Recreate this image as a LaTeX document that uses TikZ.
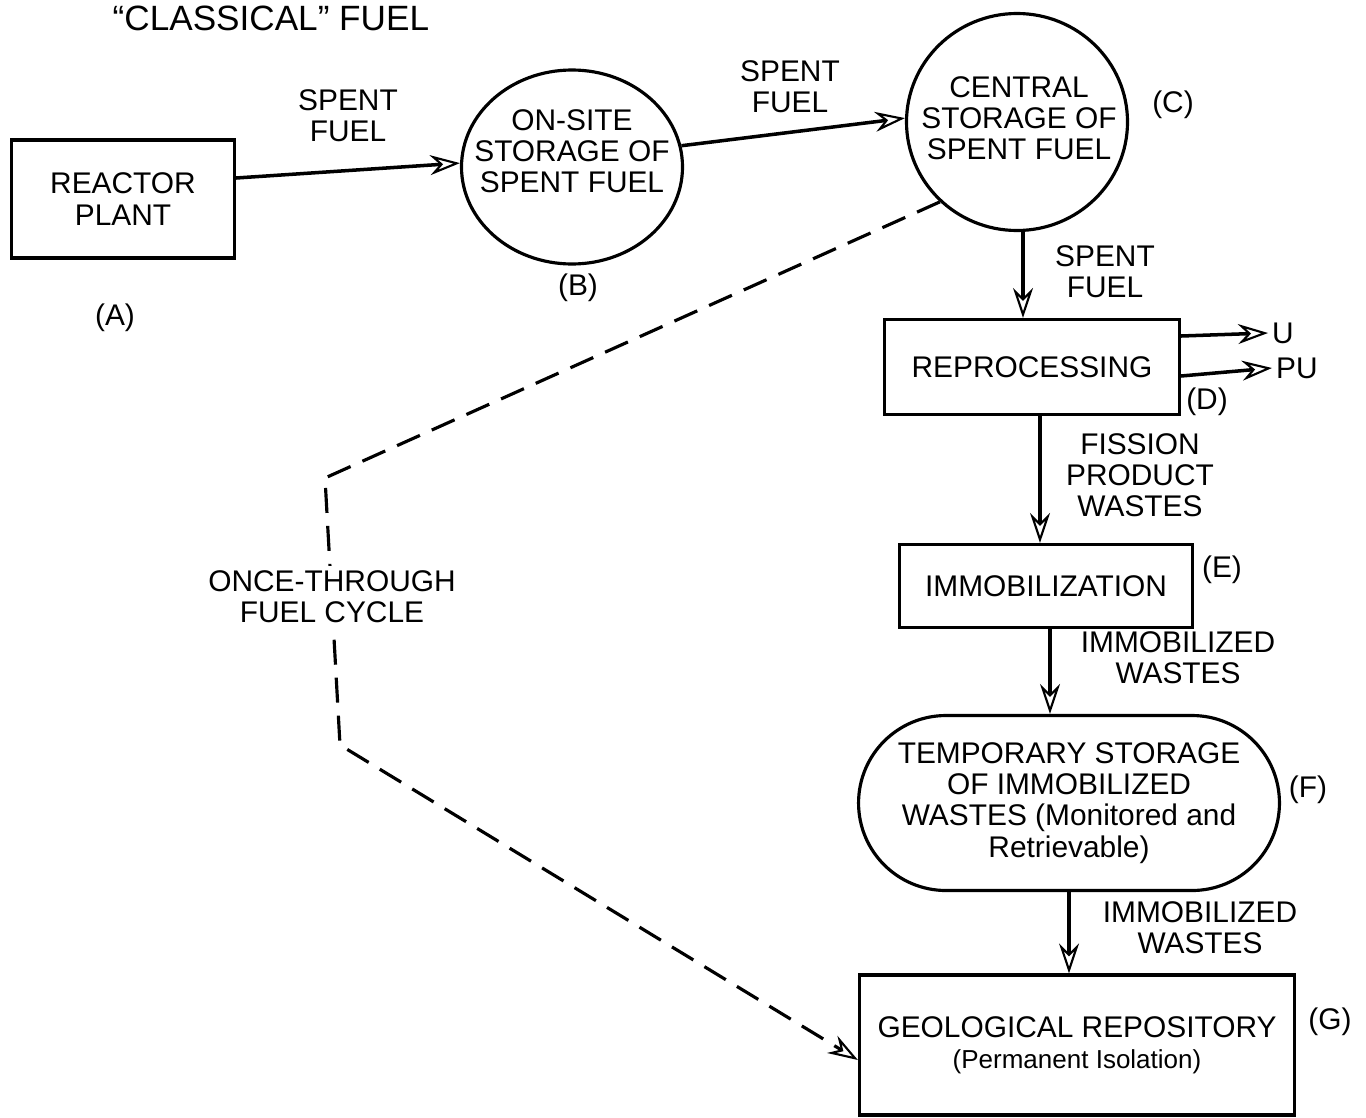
\documentclass[tikz,border=0pt]{standalone}
\usepackage{fontspec}
\setmainfont{Liberation Sans}
\usetikzlibrary{positioning,arrows.meta,shapes.misc,shapes.geometric}
\newcommand{\fcfont}{\fontsize{8.5}{8.9}\selectfont}
\newcommand{\fcsmall}{\fontsize{7.4}{8.2}\selectfont}
\tikzset{
  pbox/.style  ={rectangle, draw=black, line width=0.9pt, align=center, inner sep=3pt, font=\fcfont},
  store/.style ={ellipse, draw=black, line width=0.9pt, inner sep=0pt},
  tstore/.style={rounded rectangle, draw=black, line width=0.9pt, align=center, inner sep=3pt, font=\fcfont},
  note/.style  ={align=center, inner sep=1.5pt, font=\fcfont},
  tag/.style   ={inner sep=1pt, font=\fcfont},
  flow/.style  ={-{Stealth[open, length=3mm, width=2mm, inset=1mm, line width=0.6pt]}, line width=1pt},
  once/.style  ={-{Stealth[open, length=3mm, width=2mm, inset=1mm, line width=0.6pt]}, line width=0.9pt,
                 dash pattern=on 2.5mm off 1.3mm},
}

\begin{document}
\begin{tikzpicture}
  \useasboundingbox (0,0) rectangle (13.66,-11.17);
  % title
  \node[anchor=base west, inner sep=0pt, font=\fontsize{10}{12}\selectfont] (ttl) at (1.12,-0.31) {“CLASSICAL” FUEL};
  % stations of the cycle
  \node[pbox, minimum width=22.3mm, minimum height=11.8mm] (A) at (1.23,-1.99) {REACTOR\\PLANT};
  \node[store, minimum width=22.1mm, minimum height=19.4mm,
        label={[note, yshift=1.6mm]center:ON-SITE\\STORAGE OF\\SPENT FUEL}] (B) at (5.72,-1.67) {};
  \node[store, minimum width=22.1mm, minimum height=21.7mm,
        label={[note, xshift=0.2mm, yshift=0.4mm]center:CENTRAL\\STORAGE OF\\SPENT FUEL}] (C) at (10.17,-1.22) {};
  \node[pbox, minimum width=29.5mm, minimum height=9.5mm] (D) at (10.32,-3.67) {REPROCESSING};
  \node[pbox, minimum width=29.3mm, minimum height=8.3mm] (E) at (10.46,-5.86) {IMMOBILIZATION};
  \node[tstore, minimum width=44.2mm, minimum height=17.5mm] (F) at (10.69,-8.03)
       {TEMPORARY STORAGE\\OF IMMOBILIZED\\WASTES (Monitored and\\Retrievable)};
  \node[pbox, minimum width=43.5mm, minimum height=14mm] (G) at (10.77,-10.45)
       {GEOLOGICAL REPOSITORY\\{\fcsmall (Permanent Isolation)}};
  % letters
  \node[tag] (tA) at (1.15,-3.18) {(A)};
  \node[tag] (tB) at (5.78,-2.88) {(B)};
  \node[tag] (tC) at (11.73,-1.05) {(C)};
  \node[tag] (tD) at (12.07,-4.02) {(D)};
  \node[tag] (tE) at (12.22,-5.70) {(E)};
  \node[tag] (tF) at (13.08,-7.90) {(F)};
  \node[tag] (tG) at (13.30,-10.22) {(G)};
  \node[tag, anchor=west] (U) at (12.68,-3.33) {U};
  \node[tag, anchor=west] (PU) at (12.72,-3.68) {PU};
  % flow labels
  \node[note] (sf1) at (3.48,-1.16) {SPENT\\FUEL};
  \node[note] (sf2) at (7.90,-0.87) {SPENT\\FUEL};
  \node[note] (sf3) at (11.05,-2.72) {SPENT\\FUEL};
  \node[note] (fpw) at (11.40,-4.75) {FISSION\\PRODUCT\\WASTES};
  \node[note] (iw1) at (11.78,-6.58) {IMMOBILIZED\\WASTES};
  \node[note] (iw2) at (12.00,-9.28) {IMMOBILIZED\\WASTES};
  % connectors
  \draw[flow] ([yshift=2.1mm]A.east) -- (B.178);
  \draw[flow] (B.11) -- (C.178);
  \draw[flow] ([xshift=0.6mm]C.south) -- ([xshift=0.6mm]C.south |- D.north);
  \draw[flow] ([yshift=3.1mm]D.east) -- (U.west);
  \draw[flow] ([yshift=-0.9mm]D.east) -- (PU.west);
  \draw[flow] ([xshift=0.8mm]D.south) -- ([xshift=0.8mm]D.south |- E.north);
  \draw[flow] ([xshift=0.4mm]E.south) -- ([xshift=0.4mm]E.south |- F.north);
  \draw[flow] (F.south) -- (F.south |- G.north);
  % once-through branch
  \coordinate (k1) at (3.25,-4.78);
  \coordinate (k2) at (3.40,-7.45);
  \draw[once] (C.226) -- (k1) -- (k2) -- ([yshift=-1.5mm]G.west);
  \node[note, fill=white] (otf) at (3.32,-5.97) {ONCE-THROUGH\\FUEL CYCLE};
\end{tikzpicture}
\end{document}
